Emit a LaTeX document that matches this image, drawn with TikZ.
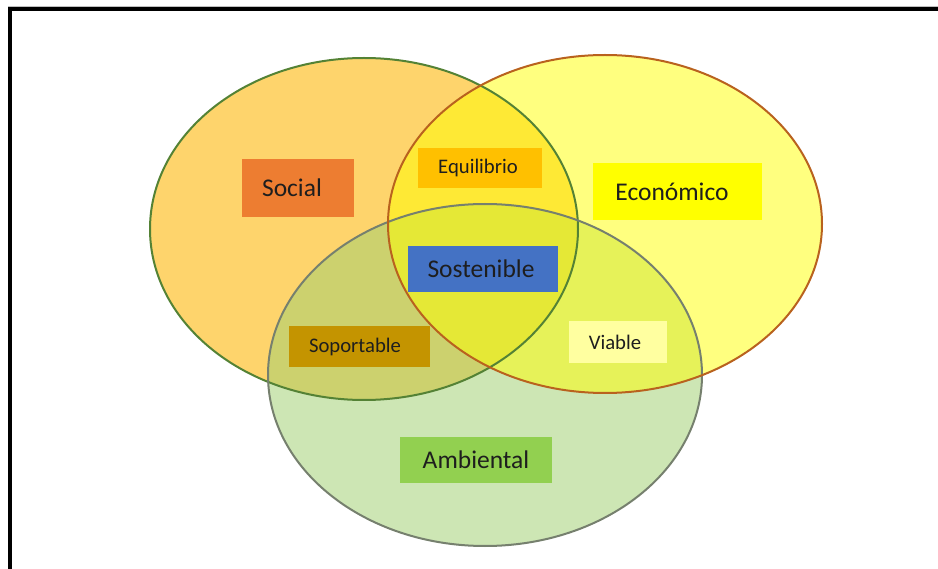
\documentclass[tikz,border=0pt]{standalone}
\usepackage{fontspec}
\setmainfont{Carlito}
\definecolor{socfill}{RGB}{254,212,108}
\definecolor{socline}{RGB}{84,130,53}
\definecolor{ecofill}{RGB}{255,255,0}
\definecolor{ecoline}{RGB}{185,98,30}
\definecolor{ambfill}{RGB}{160,208,112}
\definecolor{ambline}{RGB}{118,128,110}
\definecolor{txtc}{RGB}{30,30,30}
\definecolor{bsocial}{RGB}{237,125,49}
\definecolor{bequi}{RGB}{255,192,0}
\definecolor{beco}{RGB}{255,255,0}
\definecolor{bsost}{RGB}{68,114,196}
\definecolor{bsop}{RGB}{196,148,0}
\definecolor{bvia}{RGB}{255,255,160}
\definecolor{bamb}{RGB}{146,208,80}
\tikzset{
  tag/.style={inner sep=0pt, text=txtc, anchor=center},
  bigtag/.style={tag, font=\fontsize{25.5}{30}\selectfont},
  smalltag/.style={tag, font=\fontsize{20.7}{25}\selectfont},
  ring/.style={line width=2pt},
}
\begin{document}
\begin{tikzpicture}[x=1pt,y=-1pt]
\useasboundingbox (0,0) rectangle (938,569);
\fill[white] (0,0) rectangle (938,569);
% frame
\draw[gray!50, line width=1pt] (8,6.3) -- (938,6.3);
\draw[black, line width=4pt] (8,9.5) -- (938,9.5);
\draw[black, line width=4pt] (10,7.5) -- (10,569);
% circle fills
\fill[socfill] (364,229) ellipse [x radius=214, y radius=171];
\fill[ambfill, fill opacity=0.52] (485,375) ellipse [x radius=217, y radius=171];
\fill[ecofill, fill opacity=0.5] (605,224) ellipse [x radius=217, y radius=169];
% circle outlines
\draw[ring, socline] (364,229) ellipse [x radius=214, y radius=171];
\draw[ring, ambline] (485,375) ellipse [x radius=217, y radius=171];
\draw[ring, ecoline] (605,224) ellipse [x radius=217, y radius=169];
% labels
\node[bigtag, fill=bsocial, minimum width=112, minimum height=58] (social) at (298,188) {Social\kern12pt};
\node[smalltag, fill=bequi, minimum width=124, minimum height=40] (equi) at (480,168) {Equilibrio\kern4pt};
\node[bigtag, fill=beco, minimum width=169, minimum height=57] (eco) at (677.5,191.5) {Económico\kern11pt};
\node[bigtag, fill=bsost, minimum width=150, minimum height=46] (sost) at (483,269) {Sostenible\kern4pt};
\node[smalltag, fill=bsop, minimum width=141, minimum height=41] (sop) at (359.5,346.5) {Soportable\kern9pt};
\node[smalltag, fill=bvia, minimum width=98, minimum height=42] (via) at (618,342) {Viable\kern6pt};
\node[bigtag, fill=bamb, minimum width=152, minimum height=46] (amb) at (476,460) {Ambiental};
\end{tikzpicture}
\end{document}
